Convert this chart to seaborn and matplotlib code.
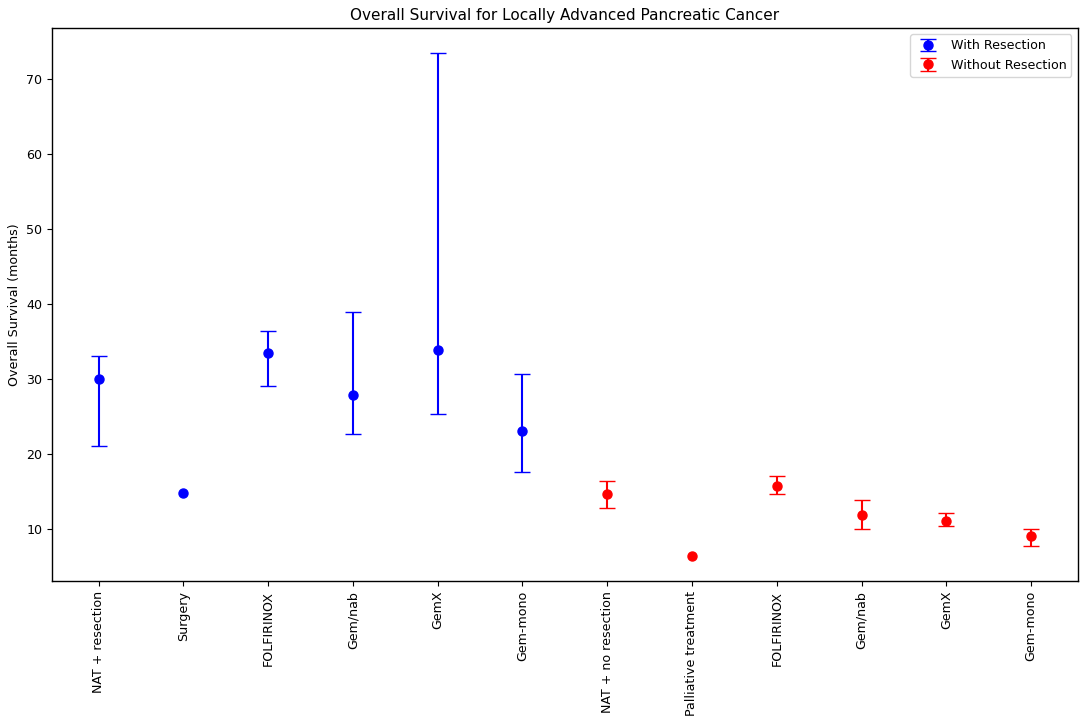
import numpy as np
import matplotlib
matplotlib.use("Agg")
import matplotlib.pyplot as plt
import seaborn as sns

# Overall survival (months) with confidence interval bounds
with_labels = ["NAT + resection", "Surgery", "FOLFIRINOX", "Gem/nab", "GemX", "Gem-mono"]
with_os = [30.0, 14.8, 33.4, 27.9, 33.8, 23.1]
with_low = [21.0, np.nan, 29.0, 22.7, 25.3, 17.6]
with_high = [33.1, np.nan, 36.4, 38.9, 73.4, 30.6]

without_labels = ["NAT + no resection", "Palliative treatment", "FOLFIRINOX", "Gem/nab", "GemX", "Gem-mono"]
without_os = [14.6, 6.4, 15.7, 11.8, 11.1, 9.0]
without_low = [12.8, np.nan, 14.7, 10.0, 10.4, 7.7]
without_high = [16.4, np.nan, 17.0, 13.8, 12.1, 10.0]

sns.set_style("ticks", {"axes.edgecolor": "black", "text.color": "black",
                        "xtick.color": "black", "ytick.color": "black",
                        "axes.labelcolor": "black"})
plt.rcParams["font.family"] = ["DejaVu Sans"]
plt.rcParams["axes.linewidth"] = 1.0

fig, ax = plt.subplots(figsize=(10.81, 7.21), dpi=100)

x_with = np.arange(len(with_labels))
x_without = np.arange(len(without_labels)) + len(with_labels)

def yerr(vals, low, high):
    vals = np.array(vals)
    return [vals - np.array(low), np.array(high) - vals]

ax.errorbar(x_with, with_os, yerr=yerr(with_os, with_low, with_high), fmt="o",
            color="blue", ecolor="blue", capsize=5.5, markersize=6.5, elinewidth=1.5,
            label="With Resection")
ax.errorbar(x_without, without_os, yerr=yerr(without_os, without_low, without_high), fmt="o",
            color="red", ecolor="red", capsize=5.5, markersize=6.5, elinewidth=1.5,
            label="Without Resection")

ax.set_xticks(np.concatenate([x_with, x_without]))
ax.set_xticklabels(with_labels + without_labels, rotation=90, fontsize=9.1)
ax.tick_params(axis="y", labelsize=9.1)
ax.set_ylabel("Overall Survival (months)", fontsize=9.1)
ax.set_title("Overall Survival for Locally Advanced Pancreatic Cancer", fontsize=11)
ax.legend(loc="upper right", fontsize=9.1)

plt.subplots_adjust(left=0.048, right=0.997, top=0.961, bottom=0.194)
plt.savefig("out.png", dpi=100)
